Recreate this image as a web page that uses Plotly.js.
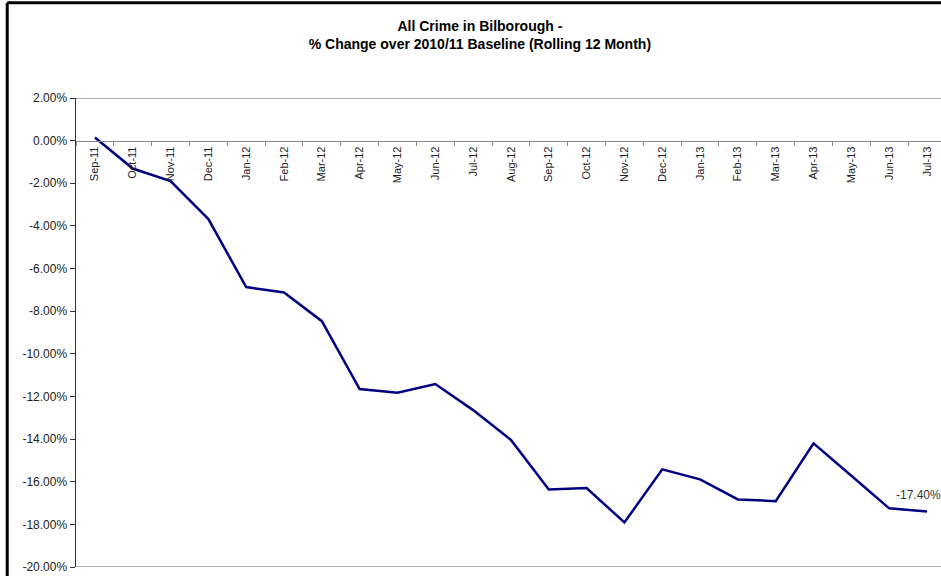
<!DOCTYPE html>
<html>
<head>
<meta charset="utf-8">
<script src="https://cdn.plot.ly/plotly-3.0.1.min.js"></script>
<style>
html,body{margin:0;padding:0;overflow:hidden;background:#fff;}
#chart{width:941px;height:576px;}
</style>
</head>
<body>
<div id="chart"></div>
<script>
const months = ["Sep-11","Oct-11","Nov-11","Dec-11","Jan-12","Feb-12","Mar-12","Apr-12","May-12","Jun-12","Jul-12","Aug-12","Sep-12","Oct-12","Nov-12","Dec-12","Jan-13","Feb-13","Mar-13","Apr-13","May-13","Jun-13","Jul-13"];
const pctChange = [0.15,-1.31,-1.90,-3.68,-6.87,-7.12,-8.47,-11.65,-11.83,-11.42,-12.64,-14.04,-16.36,-16.30,-17.91,-15.42,-15.89,-16.83,-16.91,-14.20,-15.72,-17.25,-17.40];
const yTicks = [2,0,-2,-4,-6,-8,-10,-12,-14,-16,-18,-20];
const yTickLabels = yTicks.map(v => v.toFixed(2) + "%");
const lastLabel = "-17.40%";
const titleText = "<b>All Crime in Bilborough -</b><br><b>% Change over 2010/11 Baseline (Rolling 12 Month)</b>";

const trace = {
  x: months,
  y: pctChange,
  type: "scatter",
  mode: "lines",
  line: {color: "#000080", width: 2.5},
  hoverinfo: "x+y"
};

const layout = {
  width: 941,
  height: 576,
  margin: {l: 76, r: 0, t: 98, b: 9},
  paper_bgcolor: "#ffffff",
  plot_bgcolor: "#ffffff",
  showlegend: false,
  font: {family: "Arial, 'Liberation Sans', sans-serif", color: "#222"},
  title: {
    text: titleText,
    font: {size: 14, color: "#000"},
    x: 0.51, xref: "container", xanchor: "center",
    y: 0.946, yref: "container", yanchor: "middle"
  },
  xaxis: {
    type: "category",
    range: [-0.5, 22.37],
    anchor: "free",
    position: 20/22,
    showline: true,
    linecolor: "#888",
    linewidth: 1.5,
    ticks: "outside",
    tickson: "boundaries",
    ticklen: 4,
    tickcolor: "#888",
    tickangle: -90,
    tickfont: {size: 11, color: "#222"},
    showgrid: false,
    zeroline: false,
    fixedrange: true
  },
  yaxis: {
    range: [-20, 2],
    tickvals: yTicks,
    ticktext: yTickLabels,
    showline: true,
    linecolor: "#333",
    linewidth: 1.5,
    ticks: "outside",
    ticklen: 5,
    tickcolor: "#333",
    tickfont: {size: 12, color: "#222"},
    showgrid: false,
    zeroline: false,
    fixedrange: true
  },
  shapes: [
    {type: "line", xref: "paper", yref: "y", x0: 0, x1: 1.05, y0: 2, y1: 2, line: {color: "#999", width: 1.5}},
    {type: "line", xref: "paper", yref: "y", x0: 0, x1: 1.05, y0: -20, y1: -20, line: {color: "#999", width: 1.5}},
    {type: "line", xref: "paper", yref: "paper", x0: -0.0795, x1: -0.0795, y0: -0.1, y1: 1.203, line: {color: "#000", width: 3}},
    {type: "line", xref: "paper", yref: "paper", x0: -0.0795, x1: 1.1, y0: 1.203, y1: 1.203, line: {color: "#000", width: 3}}
  ],
  annotations: [
    {x: months[months.length-1], y: pctChange[pctChange.length-1], xref: "x", yref: "y",
     text: lastLabel, showarrow: false, xanchor: "center", yanchor: "bottom",
     xshift: -9, yshift: 8, font: {size: 12, color: "#333"}}
  ]
};

Plotly.newPlot("chart", [trace], layout, {displayModeBar: false, staticPlot: true});
</script>
</body>
</html>
